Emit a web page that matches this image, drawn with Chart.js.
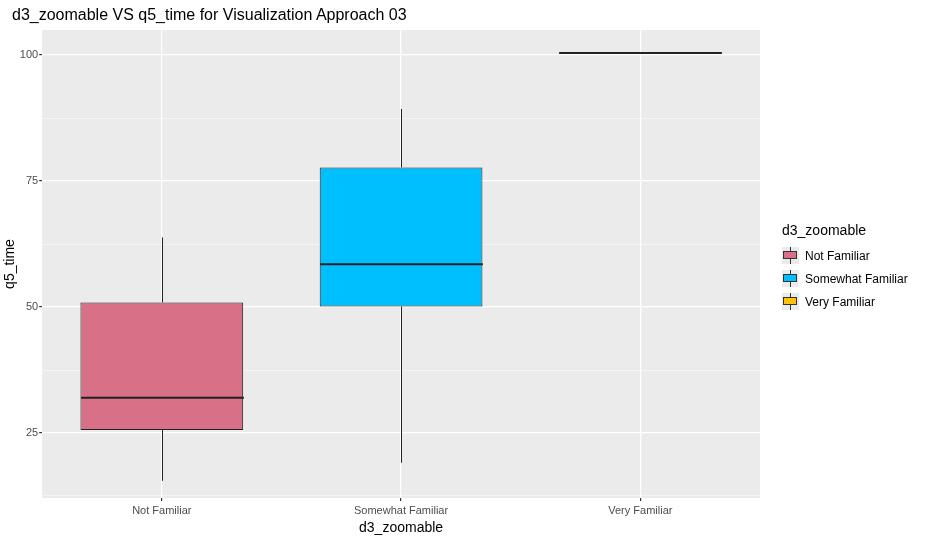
<!DOCTYPE html>
<html><head><meta charset="utf-8">
<script src="https://cdn.jsdelivr.net/npm/chart.js@4"></script>
<style>
body{margin:0;background:#fff;font-family:Arial,"Liberation Sans",sans-serif}
#wrap{position:relative;width:934px;height:546px}
#title{position:absolute;left:12px;top:6px;font-size:16px;color:#000}
#leg{position:absolute;left:782px;top:222px;font-size:12px;color:#000}
#leg .t{font-size:14px;margin-bottom:6px}
#leg .r{display:flex;align-items:center;height:23px;font-size:12px}
#leg .k{width:17px;height:17px;background:#ebebeb;position:relative;margin-right:6px}
#leg .k i{position:absolute;left:1px;top:4px;width:14px;height:8px;border:1px solid #333;box-sizing:border-box}
#leg .k b{position:absolute;left:8px;top:0;width:1px;height:17px;background:#333}
</style></head><body>
<div id="wrap"><canvas id="c" width="934" height="546"></canvas>
<div id="title">d3_zoomable VS q5_time for Visualization Approach 03</div>
<div id="leg"><div class="t">d3_zoomable</div></div></div>
<script>
const categories=["Not Familiar","Somewhat Familiar","Very Familiar"];
const wLow=[15.5,19.1,100.4];
const q1=[25.6,50.1,100.4];
const median=[32.0,58.5,100.4];
const q3=[50.9,77.7,100.4];
const wHigh=[63.8,89.3,100.4];
const colors=["#D87087","#00BFFF","#FFC20A"];
const yTicks=[25,50,75,100];

const leg=document.getElementById('leg');
categories.forEach((c,i)=>{const r=document.createElement('div');r.className='r';
r.innerHTML='<div class="k"><b></b><i style="background:'+colors[i]+'"></i></div>'+c;leg.appendChild(r);});

const boxPlugin={id:'box',afterDatasetsDraw(ch){
 const ctx=ch.ctx,x=ch.scales.x,y=ch.scales.y,meta=ch.getDatasetMeta(0);
 ctx.save();ctx.strokeStyle='#222';
 categories.forEach((c,i)=>{const b=meta.data[i];const cx=Math.round(b.x)+0.5,hw=b.width/2;
  ctx.lineWidth=1;ctx.beginPath();
  ctx.moveTo(cx,y.getPixelForValue(q3[i]));ctx.lineTo(cx,y.getPixelForValue(wHigh[i]));
  ctx.moveTo(cx,y.getPixelForValue(q1[i]));ctx.lineTo(cx,y.getPixelForValue(wLow[i]));ctx.stroke();
  ctx.lineWidth=2;ctx.beginPath();const my=y.getPixelForValue(median[i]);
  ctx.moveTo(cx-hw,my);ctx.lineTo(cx+hw,my);ctx.stroke();});
 ctx.restore();}};
const bgPlugin={id:'bg',beforeDraw(ch){const a=ch.chartArea,ctx=ch.ctx;ctx.save();ctx.fillStyle='#ebebeb';ctx.fillRect(a.left,a.top,a.right-a.left,a.bottom-a.top);ctx.restore();}};

new Chart(document.getElementById('c'),{type:'bar',
data:{labels:categories,datasets:[{data:categories.map((c,i)=>[q1[i],q3[i]]),backgroundColor:colors,borderColor:'#222',borderWidth:1,borderSkipped:false,categoryPercentage:1,barPercentage:0.68}]},
options:{responsive:false,animation:false,layout:{padding:{left:0,right:174,top:30,bottom:5}},
plugins:{legend:{display:false},tooltip:{enabled:false}},
scales:{
 x:{grid:{offset:false,color:'#fff',lineWidth:1.2,drawTicks:true,tickColor:'#333',tickLength:3},border:{display:false},
  ticks:{color:'#4d4d4d',font:{size:11,family:'Arial'}},
  title:{display:true,text:'d3_zoomable',color:'#000',font:{size:14,family:'Arial'},padding:{top:0}}},
 y:{min:12.1,max:104.97,afterBuildTicks(s){s.ticks=[12.5,25,37.5,50,62.5,75,87.5,100].map(v=>({value:v}));},
  grid:{color:'#fff',lineWidth:c=>yTicks.includes(c.tick.value)?1.2:0.5,tickLength:3,tickColor:c=>yTicks.includes(c.tick.value)?'#333':'rgba(0,0,0,0)'},border:{display:false},
  ticks:{color:'#4d4d4d',padding:1,font:{size:11,family:'Arial'},callback:v=>yTicks.includes(v)?v:''},
  title:{display:true,text:'q5_time',color:'#000',font:{size:14,family:'Arial'},padding:{top:2,bottom:0}}}}},
plugins:[bgPlugin,boxPlugin]});
</script></body></html>
